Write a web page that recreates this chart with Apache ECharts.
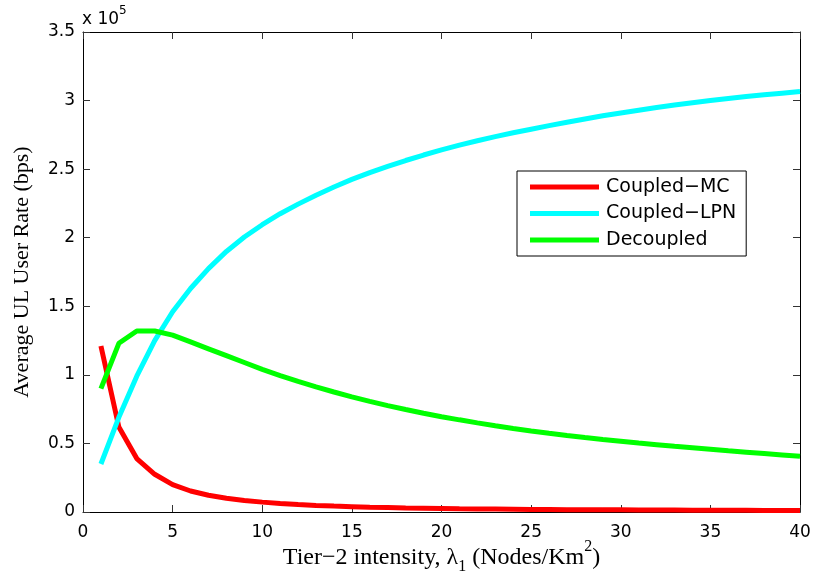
<!DOCTYPE html>
<html>
<head>
<meta charset="utf-8">
<script src="https://cdn.jsdelivr.net/npm/echarts@6/dist/echarts.min.js"></script>
<style>
  html, body { margin: 0; padding: 0; background: #fff; }
  #chart { width: 815px; height: 583px; }
</style>
</head>
<body>
<div id="chart"></div>
<script>
// Tier-2 intensity (nodes per km^2)
const lambda = [1, 2, 3, 4, 5, 6, 7, 8, 9, 10, 11, 12, 13, 14, 15, 16, 17, 18, 19, 20,
                21, 22, 23, 24, 25, 26, 27, 28, 29, 30, 31, 32, 33, 34, 35, 36, 37, 38, 39, 40];

// Average UL user rate, in units of 1e5 bps
const coupledMC = [1.21, 0.62, 0.39, 0.275, 0.20, 0.153, 0.122, 0.100, 0.084, 0.072,
                   0.062, 0.054, 0.048, 0.043, 0.039, 0.035, 0.032, 0.029, 0.027, 0.025,
                   0.023, 0.022, 0.021, 0.020, 0.019, 0.018, 0.017, 0.0165, 0.016, 0.0155,
                   0.015, 0.0145, 0.014, 0.0135, 0.013, 0.0125, 0.012, 0.0115, 0.011, 0.0105];
const coupledLPN = [0.35, 0.69, 0.99, 1.25, 1.46, 1.63, 1.775, 1.90, 2.005, 2.095,
                    2.175, 2.245, 2.31, 2.37, 2.425, 2.475, 2.52, 2.563, 2.603, 2.64,
                    2.675, 2.707, 2.737, 2.765, 2.791, 2.817, 2.842, 2.866, 2.889, 2.91,
                    2.93, 2.949, 2.967, 2.984, 3.0, 3.015, 3.029, 3.042, 3.054, 3.066];
const decoupled = [0.90, 1.23, 1.32, 1.32, 1.29, 1.24, 1.19, 1.14, 1.09, 1.04,
                   0.995, 0.952, 0.912, 0.875, 0.84, 0.807, 0.776, 0.747, 0.72, 0.695,
                   0.672, 0.65, 0.629, 0.609, 0.591, 0.574, 0.558, 0.543, 0.529, 0.516,
                   0.503, 0.491, 0.479, 0.468, 0.457, 0.446, 0.436, 0.426, 0.416, 0.406];

const seriesNames = ['Coupled\u2212MC', 'Coupled\u2212LPN', 'Decoupled'];
const seriesColors = ['#ff0000', '#00ffff', '#00ff00'];
const seriesValues = [coupledMC, coupledLPN, decoupled];

const xTicks = { min: 0, max: 40, interval: 5 };
const yTicks = { min: 0, max: 3.5, interval: 0.5 };

const sans = 'DejaVu Sans';
const serif = 'Liberation Serif';

const chart = echarts.init(document.getElementById('chart'), null, { renderer: 'canvas' });

const pairs = v => lambda.map((x, i) => [x, v[i]]);

// MATLAB-style box: axis lines on all four sides, ticks pointing inward
const boxAxis = {
  axisLine: { show: true, onZero: false, lineStyle: { color: '#000', width: 1 } },
  axisTick: { show: true, inside: true, length: 7, lineStyle: { color: '#333', width: 1 } },
  splitLine: { show: false }
};

chart.setOption({
  animation: false,
  backgroundColor: '#fff',
  grid: { left: 83, right: 15, top: 32, bottom: 71, containLabel: false, outerBoundsMode: 'none' },
  xAxis: [
    Object.assign({
      type: 'value', position: 'bottom',
      min: xTicks.min, max: xTicks.max, interval: xTicks.interval,
      axisLabel: { color: '#000', fontFamily: sans, fontSize: 17, margin: 12 },
      name: 'Tier\u22122 intensity, \u03bb{sub|1} (Nodes/Km{sup|2})',
      nameLocation: 'middle',
      nameGap: 34,
      nameMoveOverlap: false,
      nameTextStyle: {
        color: '#000', fontFamily: serif, fontSize: 24, lineHeight: 24,
        rich: {
          sub: { fontFamily: serif, fontSize: 16, lineHeight: 16, padding: [18, 0, 0, 0], color: '#000' },
          sup: { fontFamily: serif, fontSize: 16, lineHeight: 16, padding: [0, 0, 22, 0], color: '#000' }
        }
      }
    }, boxAxis),
    Object.assign({
      type: 'value', position: 'top',
      min: xTicks.min, max: xTicks.max, interval: xTicks.interval,
      axisLabel: { show: false }
    }, boxAxis)
  ],
  yAxis: [
    Object.assign({
      type: 'value', position: 'left',
      min: yTicks.min, max: yTicks.max, interval: yTicks.interval,
      axisLabel: { color: '#000', fontFamily: sans, fontSize: 17, margin: 8 },
      name: 'Average UL User Rate (bps)',
      nameLocation: 'middle',
      nameGap: 50,
      nameMoveOverlap: false,
      nameTextStyle: { color: '#000', fontFamily: serif, fontSize: 22 }
    }, boxAxis),
    Object.assign({
      type: 'value', position: 'right',
      min: yTicks.min, max: yTicks.max, interval: yTicks.interval,
      axisLabel: { show: false }
    }, boxAxis)
  ],
  legend: {
    orient: 'vertical',
    left: 517, top: 171,
    padding: [6, 10, 6, 13],
    itemGap: 6.5,
    itemWidth: 69, itemHeight: 5,
    icon: 'rect',
    backgroundColor: '#fff',
    borderColor: '#000', borderWidth: 1, borderRadius: 0,
    textStyle: { color: '#000', fontFamily: sans, fontSize: 19, lineHeight: 20, padding: [0, 0, 0, 2] },
    data: seriesNames
  },
  graphic: [
    { type: 'text', left: 82, top: 11,
      style: { text: 'x 10', font: '17px "DejaVu Sans"', fill: '#000' } },
    { type: 'text', left: 119, top: 5,
      style: { text: '5', font: '12px "DejaVu Sans"', fill: '#000' } }
  ],
  series: seriesNames.map((name, i) => ({
    name: name,
    type: 'line',
    data: pairs(seriesValues[i]),
    showSymbol: false,
    symbol: 'none',
    smooth: false,
    lineStyle: { color: seriesColors[i], width: 5 },
    itemStyle: { color: seriesColors[i] },
    emphasis: { disabled: true }
  }))
});
</script>
</body>
</html>
